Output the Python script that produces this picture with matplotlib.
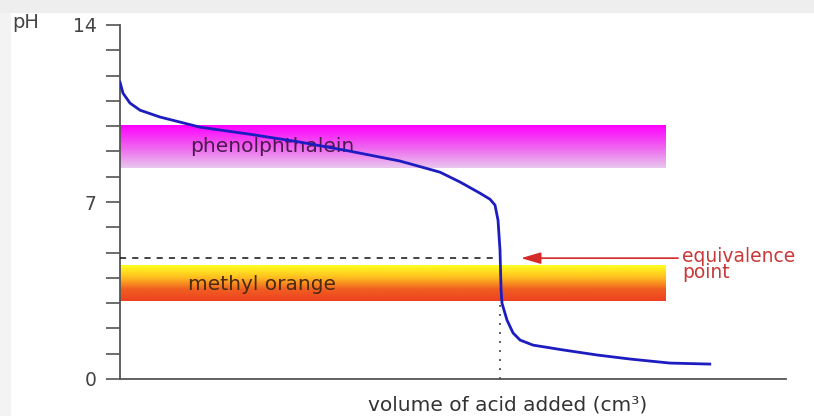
import matplotlib.pyplot as plt
import numpy as np
from matplotlib.colors import LinearSegmentedColormap
from matplotlib.patches import Rectangle

# titration curve (volume in cm3, pH)
vol = [0, 0.2, 0.66, 1.32, 2.63, 3.95, 5.26, 8.55, 11.84, 15.13, 18.42, 21.05,
       22.37, 23.68, 24.34, 24.67, 24.87, 25.0, 25.07, 25.13, 25.46, 25.86,
       26.32, 27.17, 29.14, 31.38, 33.55, 36.18, 38.8]
ph = [11.74, 11.3, 10.91, 10.63, 10.36, 10.16, 9.96, 9.68, 9.37, 9.01, 8.62, 8.18,
      7.79, 7.35, 7.11, 6.88, 6.28, 5.1, 3.52, 3.0, 2.33, 1.82,
      1.54, 1.34, 1.15, 0.95, 0.79, 0.63, 0.59]

equiv_vol = 25.0
equiv_ph = 4.78

# indicator ranges: (name, pH low, pH high)
phenol = ("phenolphthalein", 8.35, 10.05)
methyl = ("methyl orange", 3.1, 4.5)
band_end = 35.9

ytick_labels = {0: "0", 7: "7", 14: "14"}

fig = plt.figure(figsize=(8.14, 4.16), dpi=100)
fig.patch.set_facecolor("white")

# grey frame strips at top and left of the screenshot
fig.add_artist(Rectangle((0, 1 - 13 / 416), 1, 13 / 416, transform=fig.transFigure,
                         facecolor="#eeeeee", edgecolor="none", zorder=0))
fig.add_artist(Rectangle((0, 0), 11 / 814, 1 - 13 / 416, transform=fig.transFigure,
                         facecolor="#f3f3f3", edgecolor="none", zorder=0))

ax = fig.add_axes([120 / 814, 1 - 379 / 416, 666 / 814, 354 / 416])
ax.set_facecolor("none")

grad = np.linspace(0, 1, 256).reshape(-1, 1)
pink = LinearSegmentedColormap.from_list("pink", ["#ff00ff", "#f060f0", "#e8c8ee"])
fire = LinearSegmentedColormap.from_list("fire", ["#ffff20", "#ffc020", "#f06020", "#ee4020"])

ax.imshow(grad, cmap=pink, aspect="auto", origin="upper",
          extent=[0, band_end, phenol[1], phenol[2]], zorder=1)
ax.imshow(grad, cmap=fire, aspect="auto", origin="upper",
          extent=[0, band_end, methyl[1], methyl[2]], zorder=1)

ax.text(4.6, (phenol[1] + phenol[2]) / 2, phenol[0], fontsize=14.5, color="#4a1a4a",
        va="center", zorder=2)
ax.text(4.5, (methyl[1] + methyl[2]) / 2 - 0.05, methyl[0], fontsize=14.5, color="#4a2a10",
        va="center", zorder=2)

# dashed level and dotted drop line for the equivalence point
ax.plot([0, equiv_vol - 0.3], [equiv_ph, equiv_ph], color="#111111", lw=1.1,
        dashes=(4, 4), zorder=3)
ax.plot([equiv_vol, equiv_vol], [0, 3.0], color="#444444", lw=1.3,
        dashes=(1, 4), zorder=3)

ax.plot(vol, ph, color="#1c1cc0", lw=2.0, zorder=4, solid_joinstyle="round")

ax.annotate("", xy=(26.2, equiv_ph), xytext=(36.9, equiv_ph),
            arrowprops=dict(arrowstyle="-|>,head_length=1.2,head_width=0.35",
                            color="#d42a2a", lw=1.2), zorder=5)
ax.text(37.0, equiv_ph + 0.45, "equivalence\npoint", color="#c83838", fontsize=13.5,
        va="top", ha="left", linespacing=0.8, clip_on=False)

ax.set_xlim(0, 666 / 15.2)
ax.set_ylim(0, 14)

for side in ["top", "right"]:
    ax.spines[side].set_visible(False)
for side in ["left", "bottom"]:
    ax.spines[side].set_color("#555555")
    ax.spines[side].set_linewidth(1.3)

ax.set_xticks([])
ax.set_yticks(list(ytick_labels.keys()))
ax.set_yticklabels(list(ytick_labels.values()))
ax.set_yticks(range(15), minor=True)
ax.tick_params(axis="y", which="both", direction="out", length=10, width=1.1,
               color="#444444", labelsize=13.5, labelcolor="#444444", pad=7)

fig.text(12 / 814, 1 - 22 / 416, "pH", fontsize=14, color="#444444", va="center")
fig.text(508 / 814, 1 - 405 / 416, "volume of acid added (cm³)", fontsize=14.5,
         color="#333333", ha="center", va="center")

fig.savefig("out.png", dpi=100)
